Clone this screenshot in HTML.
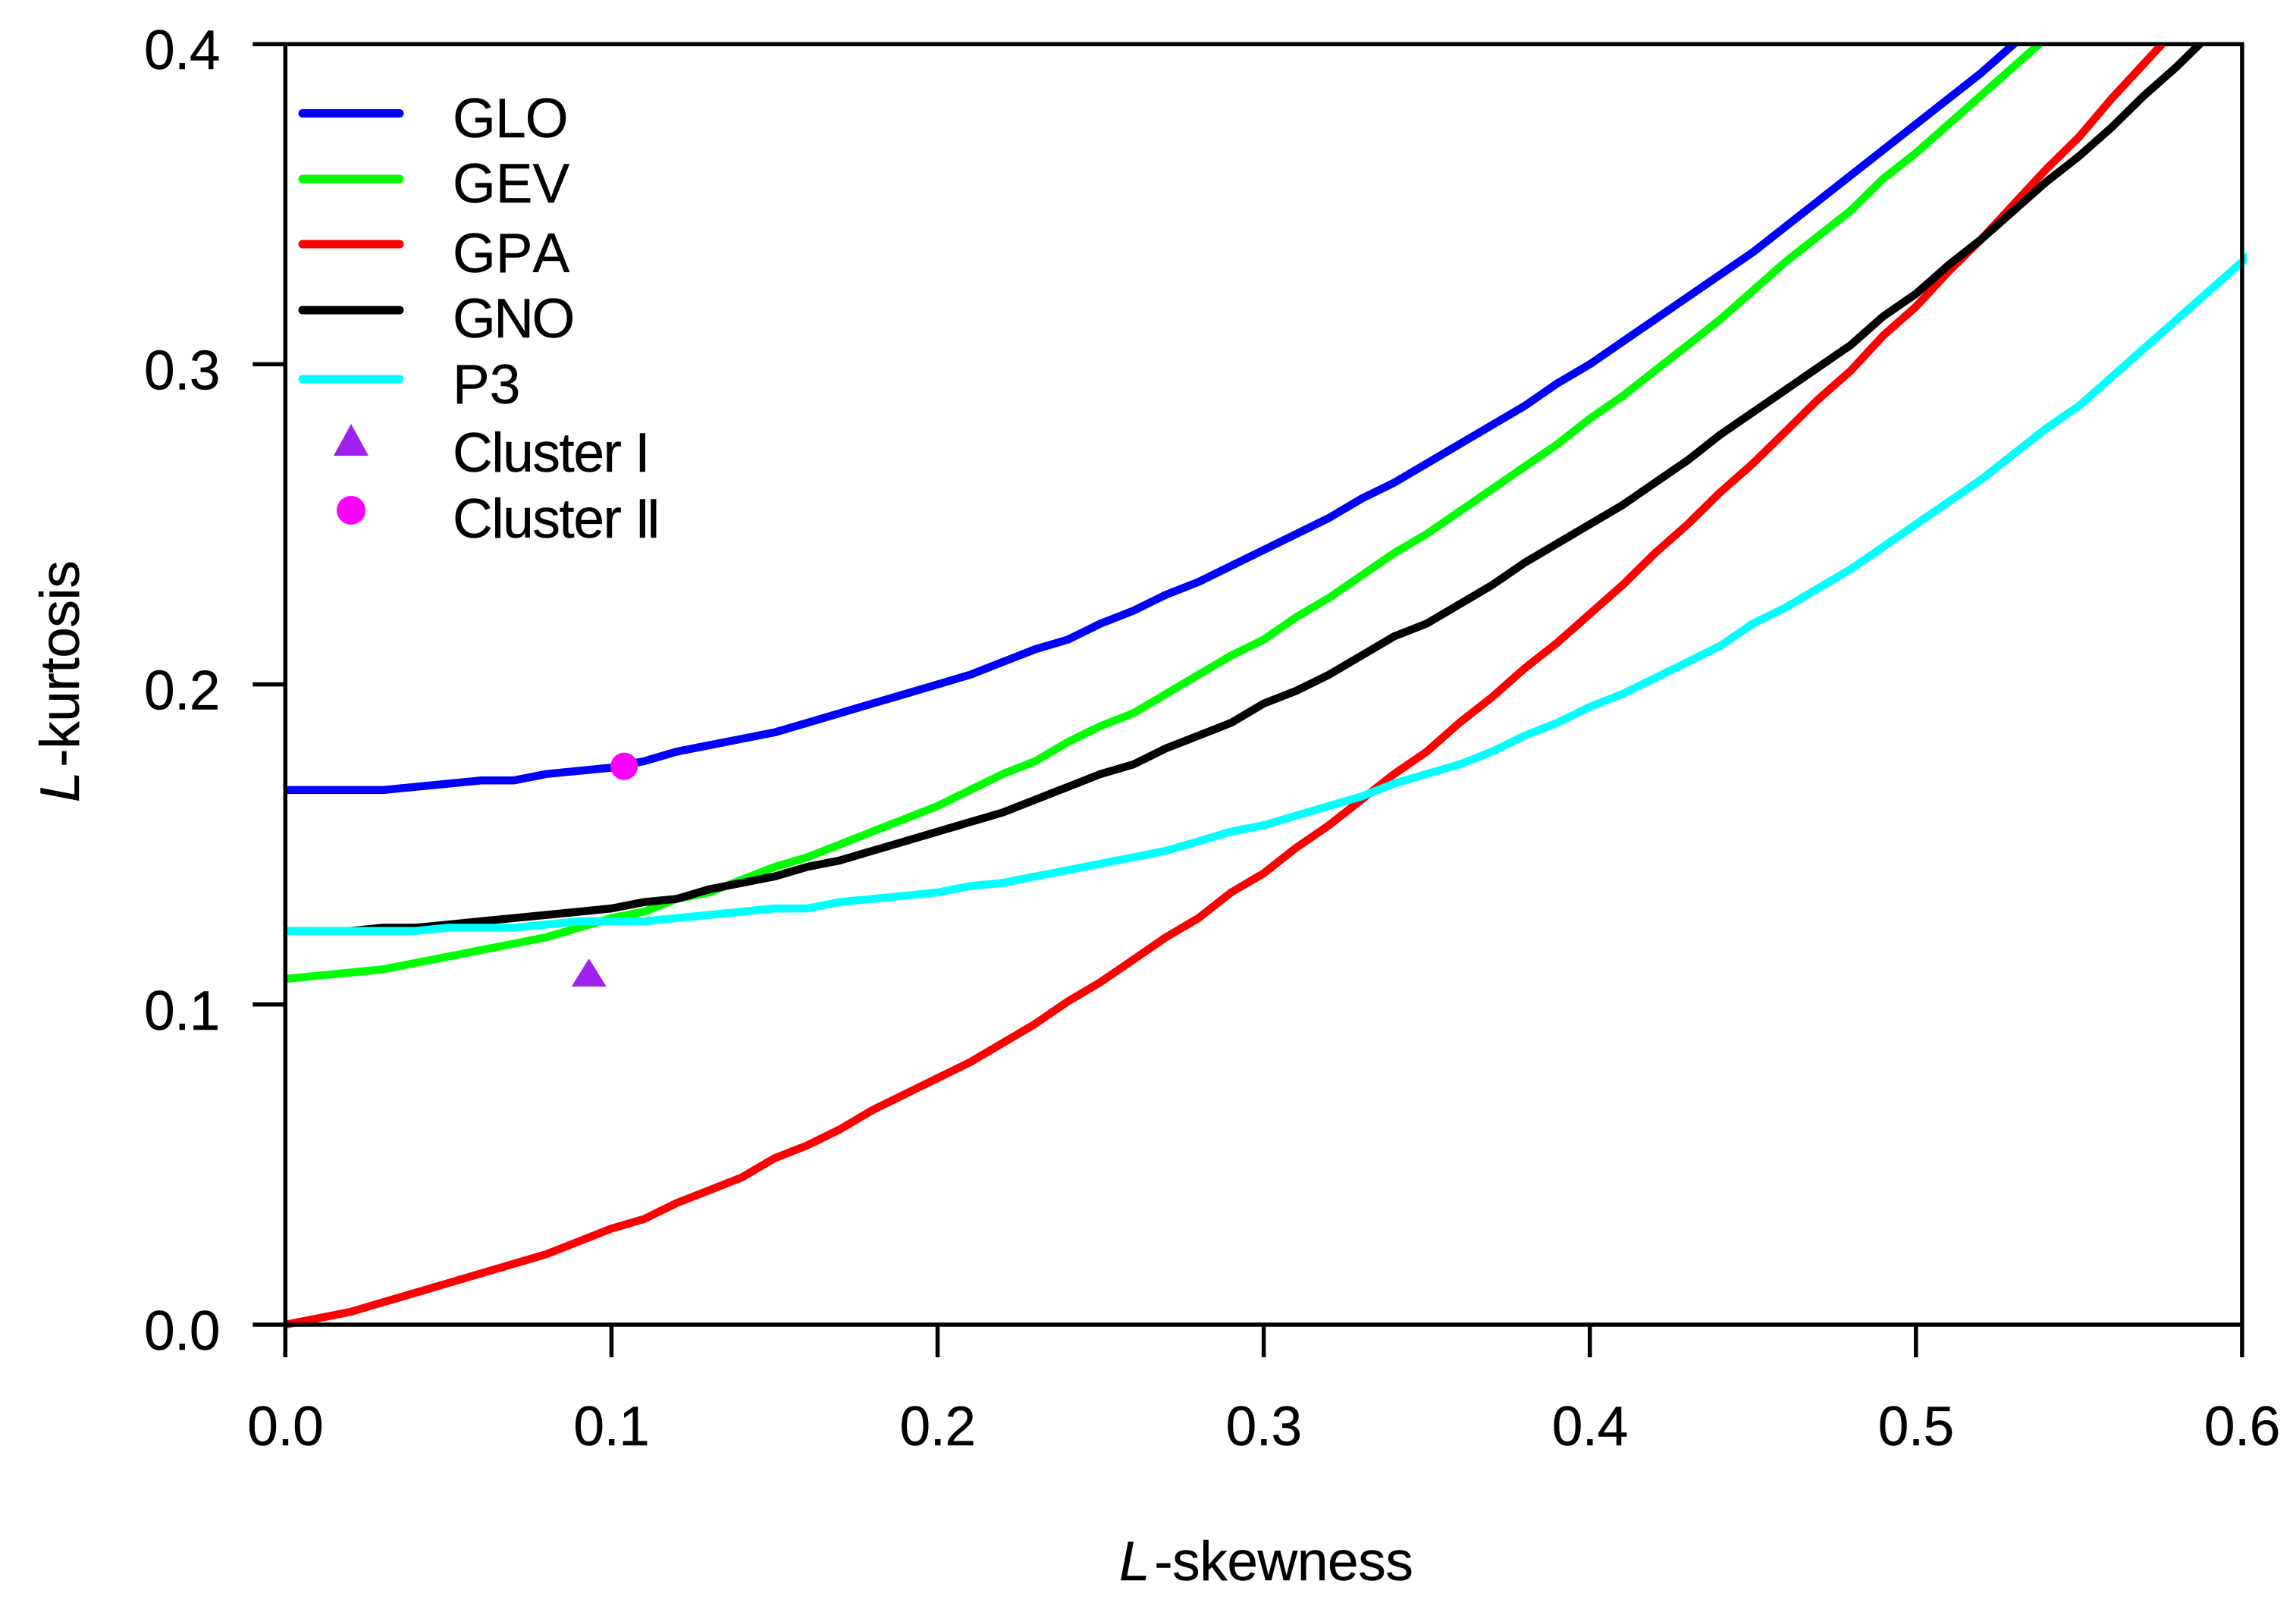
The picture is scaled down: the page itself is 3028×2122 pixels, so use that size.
<!DOCTYPE html>
<html lang="en">
<head>
<meta charset="utf-8">
<title>L-moment ratio diagram</title>
<style>
html,body{margin:0;padding:0;background:#fff;}
svg{display:block;}
text{font-family:"Liberation Sans",Arial,sans-serif;font-size:73px;fill:#000;stroke:#000;stroke-width:0.4px;}
</style>
</head>
<body>
<svg id="chart" xmlns="http://www.w3.org/2000/svg" width="3028" height="2122" viewBox="0 0 3028 2122">
  <rect x="0" y="0" width="3028" height="2122" fill="#fff"/>
  <defs>
    <clipPath id="plot-clip"><rect x="300" y="58.3" width="2663" height="1720"/></clipPath>
  </defs>
  <g id="series-layer" clip-path="url(#plot-clip)"></g>
  <g id="marker-layer"></g>
  <g id="axis-layer"></g>
  <g id="tick-label-layer"></g>

  <text x="1476" y="2084" letter-spacing="-0.4"><tspan font-style="italic">L</tspan><tspan dx="6">-skewness</tspan></text>
  <text transform="translate(104,1058) rotate(-90)" letter-spacing="-0.4"><tspan font-style="italic">L</tspan><tspan dx="6">-kurtosis</tspan></text>

  <g>
    <line x1="399" y1="149.5" x2="527" y2="149.5" stroke="#0000ff" stroke-width="11" stroke-linecap="round"/>
    <text x="597" y="181" letter-spacing="-0.8">GLO</text>
    <line x1="399" y1="236" x2="527" y2="236" stroke="#00ff00" stroke-width="11" stroke-linecap="round"/>
    <text x="597" y="267">GEV</text>
    <line x1="399" y1="322" x2="527" y2="322" stroke="#ff0000" stroke-width="11" stroke-linecap="round"/>
    <text x="597" y="359" style="font-kerning:none">GPA</text>
    <line x1="399" y1="409" x2="527" y2="409" stroke="#000000" stroke-width="11" stroke-linecap="round"/>
    <text x="597" y="445" letter-spacing="-2.5">GNO</text>
    <line x1="399" y1="500" x2="527" y2="500" stroke="#00ffff" stroke-width="11" stroke-linecap="round"/>
    <text x="597" y="532">P3</text>
    <polygon points="463,559 486,601 440,601" fill="#a020f0"/>
    <text x="597" y="622" letter-spacing="-1.4">Cluster I</text>
    <circle cx="463" cy="673" r="19" fill="#ff00ff"/>
    <text x="597" y="709" letter-spacing="-1.4">Cluster I<tspan dx="-4.5">I</tspan></text>
  </g>
</svg>

<script>
var xTicks = ["0.0","0.1","0.2","0.3","0.4","0.5","0.6"];
var yTicks = ["0.0","0.1","0.2","0.3","0.4"];
var skewness = [0,.01,.02,.03,.04,.05,.06,.07,.08,.09,.10,.11,.12,.13,.14,.15,.16,.17,.18,.19,.20,.21,.22,.23,.24,.25,.26,.27,.28,.29,.30,.31,.32,.33,.34,.35,.36,.37,.38,.39,.40,.41,.42,.43,.44,.45,.46,.47,.48,.49,.50,.51,.52,.53,.54,.55,.56,.57,.58,.59,.60,.61];
var gloValues = [.167,.167,.167,.167,.168,.169,.170,.170,.172,.173,.174,.176,.179,.181,.183,.185,.188,.191,.194,.197,.200,.203,.207,.211,.214,.219,.223,.228,.232,.237,.242,.247,.252,.258,.263,.269,.275,.281,.287,.294,.300,.307,.314,.321,.328,.335,.343,.351,.359,.367,.375,.383,.391,.400,.409];
var gevValues = [.108,.109,.110,.111,.113,.115,.117,.119,.121,.124,.127,.129,.133,.135,.139,.143,.146,.150,.154,.158,.162,.167,.172,.176,.182,.187,.191,.197,.203,.209,.214,.221,.227,.234,.241,.247,.254,.261,.268,.275,.283,.290,.298,.306,.314,.323,.332,.340,.348,.358,.366,.375,.384,.393,.402];
var gpaValues = [0,.002,.004,.007,.010,.013,.016,.019,.022,.026,.030,.033,.038,.042,.046,.052,.056,.061,.067,.072,.077,.082,.088,.094,.101,.107,.114,.121,.127,.135,.141,.149,.156,.164,.172,.179,.188,.196,.205,.213,.222,.231,.241,.250,.260,.269,.279,.289,.298,.309,.318,.329,.339,.350,.361,.371,.383,.394,.405];
var gnoValues = [.123,.123,.123,.124,.124,.125,.126,.127,.128,.129,.130,.132,.133,.136,.138,.140,.143,.145,.148,.151,.154,.157,.160,.164,.168,.172,.175,.180,.184,.188,.194,.198,.203,.209,.215,.219,.225,.231,.238,.244,.250,.256,.263,.270,.278,.285,.292,.299,.306,.315,.322,.331,.339,.348,.357,.365,.374,.384,.393,.403];
var p3Values = [.123,.123,.123,.123,.123,.124,.124,.124,.125,.126,.126,.126,.127,.128,.129,.130,.130,.132,.133,.134,.135,.137,.138,.140,.142,.144,.146,.148,.151,.154,.156,.159,.162,.165,.169,.172,.175,.179,.184,.188,.193,.197,.202,.207,.212,.219,.224,.230,.236,.243,.250,.257,.264,.272,.280,.287,.296,.305,.314,.323,.332,.342];
var clusterOne = [.0931,.1094];
var clusterTwo = [.1039,.1744];

var NS = "http://www.w3.org/2000/svg";
function xPos(v){ return 376.3 + v * 4301; }
function yPos(v){ return 1747 - v * 4222; }

var seriesLayer = document.getElementById("series-layer");
function drawSeries(values, color, name){
  var d = "";
  for (var i = 0; i < values.length; i++) {
    d += (i ? "L" : "M") + xPos(skewness[i]).toFixed(1) + " " + yPos(values[i]).toFixed(1);
  }
  var p = document.createElementNS(NS, "path");
  p.setAttribute("d", d);
  p.setAttribute("fill", "none");
  p.setAttribute("stroke", color);
  p.setAttribute("stroke-width", "10.5");
  p.setAttribute("stroke-linejoin", "round");
  
  
  seriesLayer.appendChild(p);
}
drawSeries(gloValues, "#0000ff", "series-glo");
drawSeries(gevValues, "#00ff00", "series-gev");
drawSeries(gpaValues, "#ff0000", "series-gpa");
drawSeries(gnoValues, "#000000", "series-gno");
drawSeries(p3Values, "#00ffff", "series-p3");

var markerLayer = document.getElementById("marker-layer");
var tx = xPos(clusterOne[0]), ty = yPos(clusterOne[1]);
var tri = document.createElementNS(NS, "polygon");
tri.setAttribute("points", tx + "," + (ty - 21) + " " + (tx + 23) + "," + (ty + 16) + " " + (tx - 23) + "," + (ty + 16));
tri.setAttribute("fill", "#a020f0");


markerLayer.appendChild(tri);
var dot = document.createElementNS(NS, "circle");
dot.setAttribute("cx", xPos(clusterTwo[0]));
dot.setAttribute("cy", yPos(clusterTwo[1]));
dot.setAttribute("r", "18");
dot.setAttribute("fill", "#ff00ff");


markerLayer.appendChild(dot);

var axisLayer = document.getElementById("axis-layer");
function axisLine(x1, y1, x2, y2, name){
  var l = document.createElementNS(NS, "line");
  l.setAttribute("x1", x1);
  l.setAttribute("y1", y1);
  l.setAttribute("x2", x2);
  l.setAttribute("y2", y2);
  l.setAttribute("stroke", "#000");
  l.setAttribute("stroke-width", "5.5");
  
  
  axisLayer.appendChild(l);
}
axisLine(xPos(0), yPos(0.4) - 2.5, xPos(0), yPos(0) + 43, "y-axis-left");
axisLine(xPos(0.6), yPos(0.4) - 2.5, xPos(0.6), yPos(0) + 43, "y-axis-right");
axisLine(xPos(0) - 43, yPos(0.4), xPos(0.6) + 2.5, yPos(0.4), "x-axis-top");
axisLine(xPos(0) - 43, yPos(0), xPos(0.6) + 2.5, yPos(0), "x-axis-bottom");

var labelLayer = document.getElementById("tick-label-layer");
xTicks.forEach(function(t){
  var v = parseFloat(t);
  if (v > 0 && v < 0.6) { axisLine(xPos(v), yPos(0), xPos(v), yPos(0) + 43, "x-tick-" + t); }
  var n = document.createElementNS(NS, "text");
  n.setAttribute("x", xPos(v));
  n.setAttribute("y", 1906);
  n.setAttribute("text-anchor", "middle");
  n.setAttribute("letter-spacing", "-0.5");
  
  
  n.textContent = t;
  labelLayer.appendChild(n);
});
yTicks.forEach(function(t){
  var v = parseFloat(t);
  if (v > 0 && v < 0.4) { axisLine(xPos(0) - 43, yPos(v), xPos(0), yPos(v), "y-tick-" + t); }
  var n = document.createElementNS(NS, "text");
  n.setAttribute("x", 290);
  n.setAttribute("y", yPos(v) + 33);
  n.setAttribute("text-anchor", "end");
  n.setAttribute("letter-spacing", "-0.5");
  
  
  n.textContent = t;
  labelLayer.appendChild(n);
});
</script>
</body>
</html>
